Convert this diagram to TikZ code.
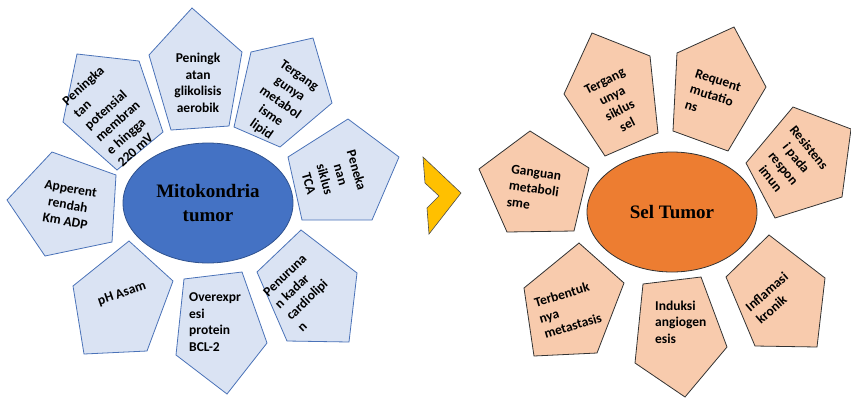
\documentclass[tikz,border=0pt]{standalone}
\usepackage{fontspec}
\setmainfont{Carlito}
\newfontfamily\headfont{Liberation Serif}
\usetikzlibrary{shapes.geometric}
\definecolor{petalblue}{HTML}{DAE3F3}
\definecolor{lineblue}{HTML}{4A72B8}
\definecolor{coreblue}{HTML}{4472C4}
\definecolor{coreedge}{HTML}{2F528F}
\definecolor{petalpeach}{HTML}{F8CBAD}
\definecolor{coreorange}{HTML}{ED7D31}
\definecolor{arrowgold}{HTML}{FFC000}
\tikzset{
  >=latex,
}
\tikzstyle{petalL}=[draw=lineblue,fill=petalblue,line width=0.8pt]
\tikzstyle{petalR}=[draw=black!80,fill=petalpeach,line width=0.8pt]
\tikzstyle{petaltext}=[font=\fontsize{13.5}{16.5}\selectfont\bfseries,inner sep=0pt]
\tikzstyle{core}=[ellipse,minimum width=170pt,minimum height=120pt,inner sep=0pt,
  line width=0.8pt,font=\headfont\fontsize{19}{24}\selectfont\bfseries,align=center]

\begin{document}
\begin{tikzpicture}[x=1pt,y=-1pt]
    \useasboundingbox (0,0) rectangle (851,397);

    % mitokondria tumor
    \draw[petalL] (77,54)--(139,61)--(163,132)--(117,170)--(63,122)--cycle;
    \draw[petalL] (192,8)--(242,52)--(229,126)--(171,130)--(149,55)--cycle;
    \draw[petalL] (251,52)--(313,38)--(332,103)--(280,147)--(234,127)--cycle;
    \draw[petalL] (348,119)--(399,157)--(372,220)--(302,220)--(288,157)--cycle;
    \draw[petalL] (52,152)--(116,175)--(112,242)--(45,256)--(7,200)--cycle;
    \draw[petalL] (129,241)--(173,281)--(147,351)--(84,354)--(73,286)--cycle;
    \draw[petalL] (184,279)--(242,272)--(267,343)--(227,394)--(176,355)--cycle;
    \draw[petalL] (301,230)--(357,273)--(349,342)--(287,341)--(257,272)--cycle;

    \node[petaltext,rotate=42,align=left] (potensial) at (112,115)
      {Peningka\\tan\\potensial\\membran\\e hingga\\220 mV};
    \node[petaltext,align=center] (glikolisis) at (198,83)
      {Peningk\\atan\\glikolisis\\aerobik};
    \node[petaltext,rotate=-35,align=center] (lipid) at (280,103)
      {Tergang\\gunya\\metabol\\isme\\lipid};
    \node[petaltext,rotate=-74,align=center] (tca) at (333,177)
      {Peneka\\nan\\siklus\\TCA};
    \node[petaltext,rotate=-10,align=center] (adp) at (68,205)
      {Apperent\\rendah\\Km ADP};
    \node[petaltext,rotate=19] (asam) at (122,294) {pH Asam};
    \node[petaltext,align=left,anchor=west] (bcl) at (189,322)
      {Overexpr\\esi\\protein\\BCL-2};
    \node[petaltext,rotate=44,align=left] (cardio) at (302,293)
      {Penuruna\\n kadar\\cardiolipi\\n};

    \node[core,draw=coreedge,fill=coreblue] (mito) at (208,203) {Mitokondria\\tumor};

    % panah
    \draw[draw=black!70,fill=arrowgold,line width=0.6pt]
      (423,157)--(461,193)--(429,234)--(427,208)--(439,196)--(425,183)--cycle;

    % sel tumor
    \draw[petalR] (530,131)--(589,168)--(574,231)--(507,232)--(479,169)--cycle;
    \draw[petalR] (592,33)--(650,56)--(658,133)--(605,156)--(564,94)--cycle;
    \draw[petalR] (734,27)--(766,87)--(728,151)--(673,131)--(677,53)--cycle;
    \draw[petalR] (793,107)--(851,129)--(842,197)--(775,218)--(746,163)--cycle;
    \draw[petalR] (579,243)--(624,283)--(597,353)--(534,356)--(524,288)--cycle;
    \draw[petalR] (643,284)--(701,277)--(727,347)--(685,397)--(635,363)--cycle;
    \draw[petalR] (769,235)--(825,278)--(817,347)--(755,346)--(726,277)--cycle;

    \node[petaltext,rotate=-8,align=left] (ganguan) at (534,189)
      {Ganguan\\metaboli\\sme};
    \node[petaltext,rotate=27,align=center] (siklus) at (616,103)
      {Tergang\\unya\\siklus\\sel};
    \node[petaltext,rotate=-18,align=left] (mutasi) at (713,96)
      {Requent\\mutatio\\ns};
    \node[petaltext,rotate=-51,align=center] (imun) at (790,163)
      {Resistens\\i pada\\respon\\imun};
    \node[petaltext,rotate=17,align=left] (metastasis) at (568,310)
      {Terbentuk\\nya\\metastasis};
    \node[petaltext,align=left,anchor=west] (angio) at (655,322)
      {Induksi\\angiogen\\esis};
    \node[petaltext,rotate=41,align=left] (kronik) at (772,298)
      {Inflamasi\\kronik};

    \node[core,draw=black!80,fill=coreorange] (sel) at (672,212) {Sel Tumor};
  \end{tikzpicture}
\end{document}
